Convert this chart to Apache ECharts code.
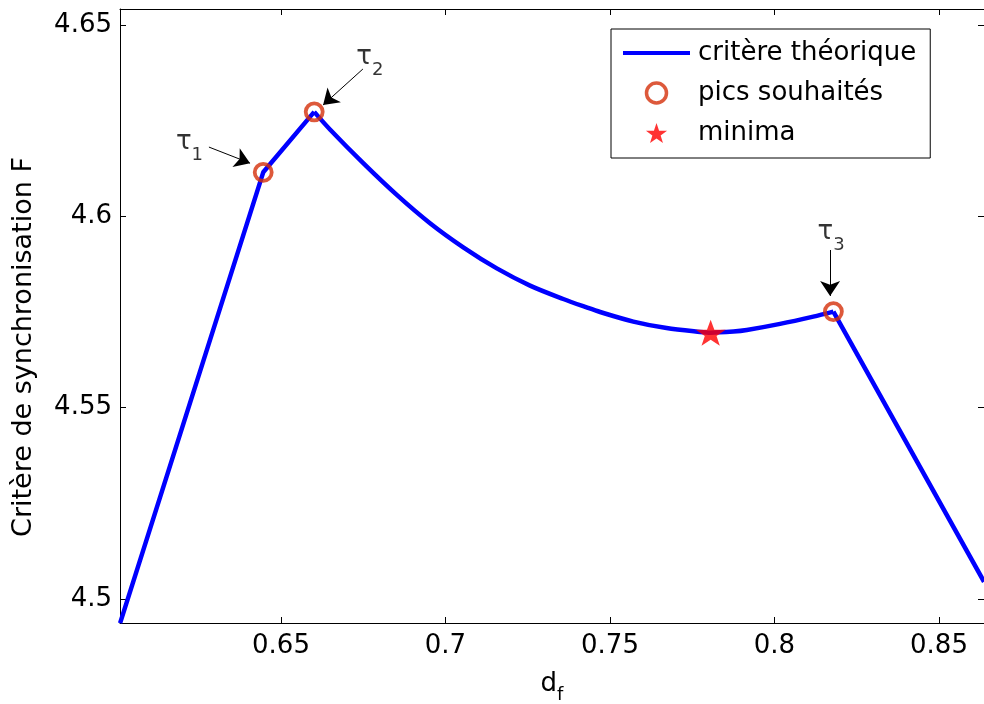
<!DOCTYPE html>
<html>
<head>
<meta charset="utf-8">
<script src="https://cdn.jsdelivr.net/npm/echarts@6/dist/echarts.min.js"></script>
<style>
html,body{margin:0;padding:0;background:#fff;}
#chart{width:984px;height:704px;}
</style>
</head>
<body>
<div id="chart"></div>
<script>
// ---- data ----
const curveX = [0.6011, 0.6446, 0.6601, 0.6649, 0.6750, 0.6852, 0.6953, 0.7054, 0.7156, 0.7257, 0.7358, 0.7429, 0.7470, 0.7571, 0.7672, 0.7774, 0.7806, 0.7875, 0.7916, 0.8017, 0.8118, 0.8179, 0.8637];
const curveY = [4.4937, 4.6115, 4.6273, 4.6227, 4.6139, 4.6056, 4.5982, 4.5919, 4.5864, 4.5819, 4.5784, 4.5762, 4.5750, 4.5725, 4.5708, 4.5698, 4.5696, 4.5699, 4.5703, 4.5719, 4.5738, 4.5751, 4.5045];
// indices in the curve arrays of the corner points (tau_2 and tau_3), between which the curve is smooth
const smoothFrom = 2;
const smoothTo = 21;
const peakX = [0.6446, 0.6601, 0.8179];
const peakY = [4.6115, 4.6273, 4.5751];
const minX = [0.7806];
const minY = [4.5696];
const xTicks = [0.65, 0.7, 0.75, 0.8, 0.85];
const yTicks = [4.5, 4.55, 4.6, 4.65];
const xRange = [0.60107, 0.86368];
const yRange = [4.49373, 4.65418];
const seriesNames = ['critère théorique', 'pics souhaités', 'minima'];
const xTitle = 'd';
const xTitleSub = 'f';
const yTitle = 'Critère de synchronisation F';
// annotation labels (tau_i) and arrows, in data coordinates
const tauIndex = ['1', '2', '3'];
const tauLabelX = [0.6222, 0.6770, 0.8172];
const tauLabelY = [4.6194, 4.6416, 4.5959];
const arrowFrom = [[0.6281, 4.6181], [0.6749, 4.6385], [0.8169, 4.5912]];
const arrowTo = [[0.6406, 4.6139], [0.6628, 4.6291], [0.8169, 4.5792]];

const FONT = 'DejaVu Sans';
const fmt = v => String(+(+v).toFixed(2));
const star = 'path://M50,0 L61.8,35.1 L98.1,35.1 L68.8,56.8 L79.4,91 L50,70 L20.6,91 L31.2,56.8 L1.9,35.1 L38.2,35.1 Z';
const lineIcon = 'path://M0,0 L67,0 L67,4 L0,4 Z';

const pts = curveX.map((x, i) => [x, curveY[i]]);
const straightData = pts.slice(0, smoothFrom + 1).concat([null], pts.slice(smoothTo));
const smoothData = pts.slice(smoothFrom, smoothTo + 1);

const chart = echarts.init(document.getElementById('chart'), null, {renderer: 'canvas'});

const baseAxis = {
  type: 'value',
  scale: true,
  axisLine: {show: true, onZero: false, lineStyle: {color: '#000', width: 1}},
  axisTick: {show: true, inside: true, length: 6, lineStyle: {color: '#000', width: 1}},
  splitLine: {show: false},
};

const BLUE = '#0000ff';
const RING = '#d4300a';

const option = {
  animation: false,
  backgroundColor: '#fff',
  grid: {left: 120, right: 0, top: 9, bottom: 81, outerBoundsMode: 'none', containLabel: false},
  xAxis: [
    Object.assign({}, baseAxis, {
      min: xRange[0], max: xRange[1], position: 'bottom',
      axisTick: Object.assign({}, baseAxis.axisTick, {customValues: xTicks}),
      axisLabel: {customValues: xTicks, formatter: fmt, color: '#000', fontFamily: FONT, fontSize: 26, margin: 10},
      name: '{a|' + xTitle + '}{b|' + xTitleSub + '}',
      nameLocation: 'middle', nameGap: 40,
      nameTextStyle: {
        rich: {
          a: {fontFamily: FONT, fontSize: 26, color: '#000', lineHeight: 30},
          b: {fontFamily: FONT, fontSize: 18, color: '#000', lineHeight: 18, padding: [22, 0, 0, 0]}
        }
      }
    }),
    Object.assign({}, baseAxis, {
      min: xRange[0], max: xRange[1], position: 'top',
      axisTick: Object.assign({}, baseAxis.axisTick, {customValues: xTicks}),
      axisLabel: {show: false}
    })
  ],
  yAxis: [
    Object.assign({}, baseAxis, {
      min: yRange[0], max: yRange[1], position: 'left',
      axisTick: Object.assign({}, baseAxis.axisTick, {customValues: yTicks}),
      axisLabel: {customValues: yTicks, formatter: fmt, color: '#000', fontFamily: FONT, fontSize: 26, margin: 8},
      name: yTitle, nameLocation: 'middle', nameGap: 83, nameRotate: 90,
      nameTextStyle: {fontFamily: FONT, fontSize: 27, color: '#000', padding: [0, 62, 0, 0]}
    }),
    Object.assign({}, baseAxis, {
      min: yRange[0], max: yRange[1], position: 'right',
      axisTick: Object.assign({}, baseAxis.axisTick, {customValues: yTicks}),
      axisLabel: {show: false}
    })
  ],
  legend: {
    orient: 'vertical',
    left: 611, top: 29,
    data: [
      {name: seriesNames[0], icon: lineIcon, itemStyle: {color: BLUE}},
      {name: seriesNames[1], itemStyle: {borderWidth: 3.5}},
      {name: seriesNames[2]}
    ],
    itemWidth: 67, itemHeight: 20, itemGap: 14,
    padding: [11, 14, 12, 12],
    backgroundColor: '#fff',
    borderColor: '#000', borderWidth: 1, borderRadius: 0,
    textStyle: {fontFamily: FONT, fontSize: 26, color: '#000', padding: [0, 0, 0, 3]},
    selectedMode: false
  },
  series: [
    {
      name: seriesNames[0], type: 'line',
      data: straightData, connectNulls: false,
      showSymbol: false, symbol: 'none',
      lineStyle: {color: BLUE, width: 4.5},
      itemStyle: {color: BLUE},
      clip: true, z: 2
    },
    {
      name: seriesNames[0], type: 'line',
      data: smoothData, smooth: 0.3,
      showSymbol: false, symbol: 'none',
      lineStyle: {color: BLUE, width: 4.5},
      itemStyle: {color: BLUE},
      clip: true, z: 2
    },
    {
      name: seriesNames[1], type: 'scatter',
      data: peakX.map((x, i) => [x, peakY[i]]),
      symbol: 'circle', symbolSize: 17,
      itemStyle: {color: 'rgba(0,0,0,0)', borderColor: RING, borderWidth: 3.8},
      z: 3
    },
    {
      name: seriesNames[2], type: 'scatter',
      data: minX.map((x, i) => [x, minY[i]]),
      symbol: star, symbolSize: [30, 26], symbolKeepAspect: false,
      itemStyle: {color: '#ff0000'},
      z: 3
    },
    {
      name: 'annotations', type: 'scatter',
      data: tauLabelX.map((x, i) => [x, tauLabelY[i], tauIndex[i]]),
      symbolSize: 0, silent: true, z: 5,
      label: {
        show: true, position: 'inside',
        formatter: p => '{t|τ}{s|' + p.value[2] + '}',
        rich: {
          t: {fontFamily: FONT, fontSize: 26, color: '#000', lineHeight: 30},
          s: {fontFamily: FONT, fontSize: 18, color: '#000', lineHeight: 18, padding: [26, 0, 0, 0]}
        }
      },
      markLine: {
        silent: true, animation: false,
        symbol: ['none', 'arrow'], symbolSize: 15,
        lineStyle: {color: '#000', width: 1, type: 'solid'},
        label: {show: false},
        data: arrowFrom.map((f, i) => [{coord: f}, {coord: arrowTo[i]}])
      }
    }
  ]
};
chart.setOption(option);
</script>
</body>
</html>
